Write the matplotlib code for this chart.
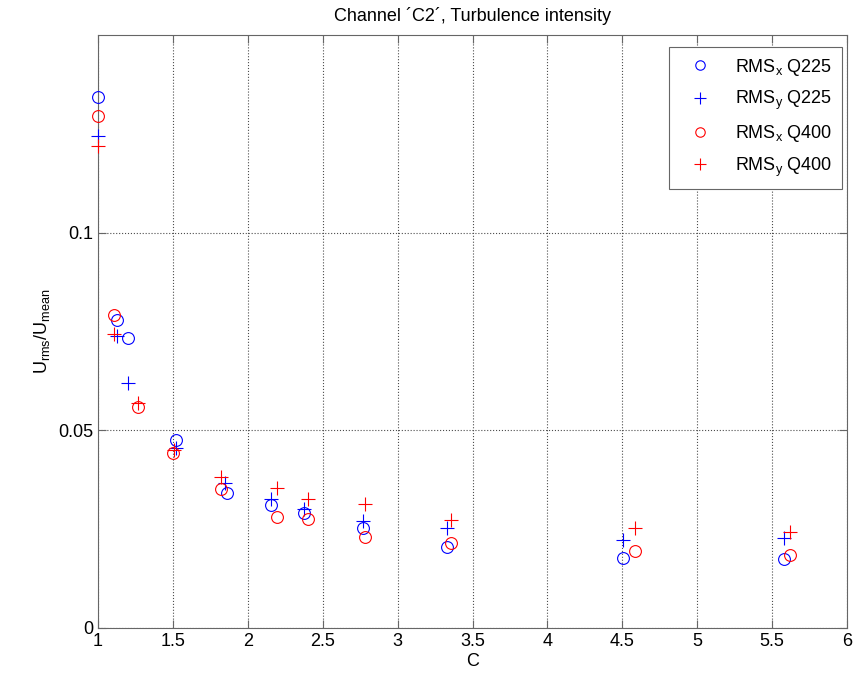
import matplotlib
matplotlib.use("Agg")
import matplotlib.pyplot as plt

plt.rcParams['font.family'] = ['Liberation Sans', 'DejaVu Sans']

# RMS_x Q225
x_rx225 = [1.0, 1.124, 1.203, 1.52, 1.861, 2.155, 2.378, 2.772, 3.332, 4.507, 5.581]
y_rx225 = [0.1344, 0.0780, 0.0733, 0.0476, 0.0341, 0.0311, 0.0292, 0.0252, 0.0206, 0.0176, 0.0174]
# RMS_y Q225
x_ry225 = [1.0, 1.124, 1.203, 1.52, 1.845, 2.155, 2.378, 2.772, 3.332, 4.507, 5.581]
y_ry225 = [0.1245, 0.0739, 0.0619, 0.0455, 0.0366, 0.0327, 0.0300, 0.0271, 0.0252, 0.0223, 0.0227]
# RMS_x Q400
x_rx400 = [1.0, 1.109, 1.267, 1.50, 1.823, 2.197, 2.404, 2.785, 3.354, 4.582, 5.619]
y_rx400 = [0.1296, 0.0791, 0.0560, 0.0443, 0.0352, 0.0280, 0.0276, 0.0231, 0.0216, 0.0195, 0.0185]
# RMS_y Q400
x_ry400 = [1.0, 1.107, 1.267, 1.51, 1.823, 2.197, 2.404, 2.785, 3.354, 4.582, 5.619]
y_ry400 = [0.1218, 0.0744, 0.0569, 0.0450, 0.0381, 0.0354, 0.0326, 0.0313, 0.0273, 0.0252, 0.0242]

fig = plt.figure(figsize=(8.65, 6.8), dpi=100)
ax = fig.add_axes([0.1133, 0.0765, 0.9792 - 0.1133, 0.9485 - 0.0765])

blue = (0.0, 0.0, 1.0)
red = (1.0, 0.0, 0.0)
ms_o = 8.5
ms_p = 10
lw = 0.8
ax.plot(x_rx225, y_rx225, 'o', mfc='none', mec=blue, ms=ms_o, mew=lw, clip_on=False, zorder=3, label=r'RMS$_{\mathregular{x}}$ Q225')
ax.plot(x_ry225, y_ry225, '+', color=blue, ms=ms_p, mew=lw, clip_on=False, zorder=3, label=r'RMS$_{\mathregular{y}}$ Q225')
ax.plot(x_rx400, y_rx400, 'o', mfc='none', mec=red, ms=ms_o, mew=lw, clip_on=False, zorder=3, label=r'RMS$_{\mathregular{x}}$ Q400')
ax.plot(x_ry400, y_ry400, '+', color=red, ms=ms_p, mew=lw, clip_on=False, zorder=3, label=r'RMS$_{\mathregular{y}}$ Q400')

ax.set_xlim(1, 6)
ax.set_ylim(0, 0.15)
ax.set_xticks([1, 1.5, 2, 2.5, 3, 3.5, 4, 4.5, 5, 5.5, 6])
ax.set_xticklabels(['1', '1.5', '2', '2.5', '3', '3.5', '4', '4.5', '5', '5.5', '6'])
ax.set_yticks([0, 0.05, 0.1])
ax.set_yticklabels(['0', '0.05', '0.1'])
ax.grid(True, linestyle=':', color='0.3', linewidth=0.8)
ax.tick_params(direction='in', top=True, right=True, labelsize=13, length=6, color='0.4')
for s in ax.spines.values():
    s.set_color('0.4')

ax.set_xlabel('C', fontsize=13, labelpad=2)
ax.set_ylabel(r'U$_{\mathregular{rms}}$/U$_{\mathregular{mean}}$', fontsize=13)
ax.set_title('Channel \u00b4C2\u00b4, Turbulence intensity', fontsize=13, pad=10)

leg = ax.legend(loc='upper right', fontsize=13, frameon=True, fancybox=False,
                edgecolor='0.4', framealpha=1, borderpad=0.55, handletextpad=0.7,
                handlelength=2.4, markerscale=0.8,
                labelspacing=0.62, borderaxespad=0, bbox_to_anchor=(0.9933, 0.98))
leg.get_frame().set_linewidth(0.8)

fig.savefig('out.png', dpi=100)
